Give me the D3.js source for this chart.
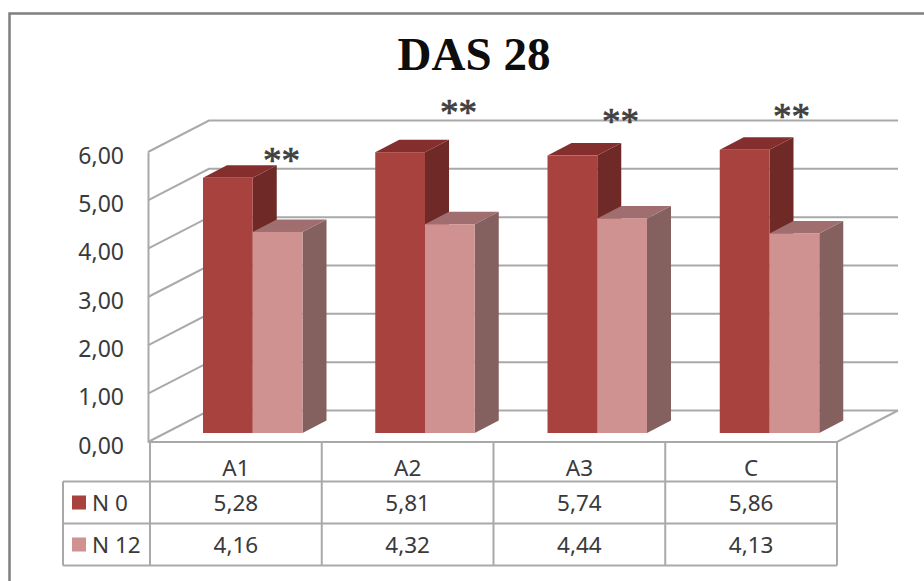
<!DOCTYPE html>
<html>
<head>
<meta charset="utf-8">
<title>DAS 28</title>
<script src="https://cdn.jsdelivr.net/npm/d3@7/dist/d3.min.js"></script>
<style>
  html, body { margin: 0; padding: 0; background: #fff; }
  svg { display: block; }
  text { font-family: "Noto Sans", sans-serif; fill: #3a3a3a; }
</style>
</head>
<body>
<svg id="chart" width="924" height="581"></svg>
<script>
const chartTitle = "DAS 28";
const categories = ["A1", "A2", "A3", "C"];
const seriesNames = ["N 0", "N 12"];
const n0Values = [5.28, 5.81, 5.74, 5.86];
const n12Values = [4.16, 4.32, 4.44, 4.13];
const tickValues = [0, 1, 2, 3, 4, 5, 6];

// Significance markers: [position along the category axis, height on the value axis]
const markerSlots = [0.775, 1.803, 2.743, 3.736];
const markerLevels = [5.27, 6.26, 6.07, 6.18];

const palette = {
  "N 0":  { front: "#a8423f", top: "#842f2d", side: "#6f2a28" },
  "N 12": { front: "#d09290", top: "#a06e6e", side: "#84605e" }
};
const gridColor = "#a9a9a9";

const svg = d3.select("#chart");
const comma = d3.formatLocale({ decimal: ",", thousands: ".", grouping: [3], currency: ["", ""] }).format(".2f");

// Oblique projection: the front plane of the box, and the offset to its back wall.
const wall = { dx: 61, dy: -31.5 };
const barDepth = { dx: 24, dy: -12.5 };
const yFront = d3.scaleLinear().domain([0, 6]).range([442, 152]);
const yBack = v => yFront(v) + wall.dy;
const yBarBase = v => yFront(v) - 9;

const xFront = d3.scaleBand().domain(categories).range([148, 837]);
const xSlots = d3.scaleLinear().domain([0, 4]).range([148, 837]);
const xSeries = d3.scaleBand().domain(seriesNames).range([55, 154.5]);
const xTable = d3.scaleBand().domain(categories).range([150, 837]);

// Outer chart frame (only its top and left edges are drawn)
svg.append("path")
  .attr("d", d3.line()([[9.5, 581], [9.5, 13.5], [924, 13.5]]))
  .attr("fill", "none").attr("stroke", "#7f7f7f").attr("stroke-width", 2.5);

svg.append("text")
  .attr("x", 474).attr("y", 70)
  .attr("text-anchor", "middle")
  .style("font-family", "'Liberation Serif', serif")
  .style("font-weight", "bold")
  .style("font-size", "47px")
  .style("fill", "#0d0d0d")
  .text(chartTitle);

// Gridlines wrap from the left wall across the back wall
const x0 = xFront.range()[0];
const xEnd = xFront.range()[1] + wall.dx;
const grid = svg.append("g").attr("fill", "none").attr("stroke", gridColor).attr("stroke-width", 2);
grid.selectAll("path.wall").data(tickValues).join("path")
  .attr("class", "wall")
  .attr("d", v => d3.line()([[x0, yFront(v)], [x0 + wall.dx, yBack(v)], [xEnd, yBack(v)]]));

// Floor outline
grid.append("path").attr("d", d3.line()([
  [xEnd, yBack(0)], [xFront.range()[1], yFront(0)], [x0, yFront(0)]
]));

// Value axis along the front edge of the left wall
const axis = d3.axisLeft(yFront).tickValues(tickValues).tickFormat(comma).tickSize(0).tickPadding(24);
const axisG = svg.append("g").attr("transform", `translate(${x0},0)`).call(axis);
axisG.select(".domain").attr("stroke", gridColor).attr("stroke-width", 2);
axisG.selectAll("text")
  .attr("dy", "0.48em")
  .style("font-size", "23px")
  .style("font-family", "'Noto Sans', sans-serif")
  .attr("fill", "#3a3a3a");

// Bars with a front face, a top face and a side face
function drawSeries(name, values) {
  const colors = palette[name];
  const g = svg.append("g").attr("class", "series");
  const w = xSeries.bandwidth();
  const left = c => xFront(c) + xSeries(name);
  const rows = categories.map((c, i) => ({ c, v: values[i] }));
  const bars = g.selectAll("g").data(rows).join("g");
  bars.append("path").attr("fill", colors.side).attr("d", d => d3.line()([
    [left(d.c) + w, yBarBase(d.v)],
    [left(d.c) + w + barDepth.dx, yBarBase(d.v) + barDepth.dy],
    [left(d.c) + w + barDepth.dx, yBarBase(0) + barDepth.dy],
    [left(d.c) + w, yBarBase(0)]
  ]) + "Z");
  bars.append("path").attr("fill", colors.top).attr("d", d => d3.line()([
    [left(d.c), yBarBase(d.v)],
    [left(d.c) + barDepth.dx, yBarBase(d.v) + barDepth.dy],
    [left(d.c) + w + barDepth.dx, yBarBase(d.v) + barDepth.dy],
    [left(d.c) + w, yBarBase(d.v)]
  ]) + "Z");
  bars.append("rect").attr("fill", colors.front)
    .attr("x", d => left(d.c)).attr("width", w)
    .attr("y", d => yBarBase(d.v)).attr("height", d => yBarBase(0) - yBarBase(d.v));
}
drawSeries("N 0", n0Values);
drawSeries("N 12", n12Values);

// Significance markers
svg.append("g").selectAll("text").data(markerSlots).join("text")
  .attr("x", d => xSlots(d))
  .attr("y", (d, i) => yBack(markerLevels[i]) + 17)
  .attr("text-anchor", "middle")
  .style("font-family", "'Liberation Serif', serif")
  .style("font-size", "37px")
  .style("fill", "#404040")
  .style("stroke", "#404040")
  .style("stroke-width", 0.7)
  .text("**");

// Data table beneath the axis: a slightly shorter header row above two equal rows
const rowY = d3.scaleOrdinal().domain(["head", "N 0", "N 12", "end"]).range([442, 481.5, 523.5, 565.5]);
const rowMid = name => (rowY(name) + 42 / 2);
const legendLeft = 63;
const tableLines = svg.append("g").attr("fill", "none").attr("stroke", gridColor).attr("stroke-width", 2);
tableLines.selectAll("path.col")
  .data([...categories.map(c => xTable(c)), xTable.range()[1]]).join("path")
  .attr("class", "col")
  .attr("d", x => d3.line()([[x, rowY("head")], [x, rowY("end")]]));
tableLines.selectAll("path.row").data(["N 0", "N 12", "end"]).join("path")
  .attr("class", "row")
  .attr("d", r => d3.line()([[legendLeft, rowY(r)], [xTable.range()[1], rowY(r)]]));
tableLines.append("path").attr("d", d3.line()([[legendLeft, rowY("N 0")], [legendLeft, rowY("end")]]));

const cellText = (sel) => sel
  .attr("text-anchor", "middle")
  .attr("dominant-baseline", "central")
  .style("font-size", "22.5px");

svg.append("g").selectAll("text").data(categories).join("text")
  .attr("x", c => xTable(c) + xTable.bandwidth() / 2)
  .attr("y", rowY("head") + 25)
  .call(cellText)
  .text(c => c);

[["N 0", n0Values], ["N 12", n12Values]].forEach(([name, values]) => {
  const mid = rowMid(name);
  svg.append("rect")
    .attr("x", 72).attr("y", mid - 7).attr("width", 14).attr("height", 14)
    .attr("fill", palette[name].front);
  svg.append("text")
    .attr("x", 92).attr("y", mid)
    .attr("dominant-baseline", "central")
    .style("font-size", "22.5px")
    .text(name);
  svg.append("g").selectAll("text").data(categories).join("text")
    .attr("x", c => xTable(c) + xTable.bandwidth() / 2)
    .attr("y", mid)
    .call(cellText)
    .text((c, i) => comma(values[i]));
});
</script>
</body>
</html>
